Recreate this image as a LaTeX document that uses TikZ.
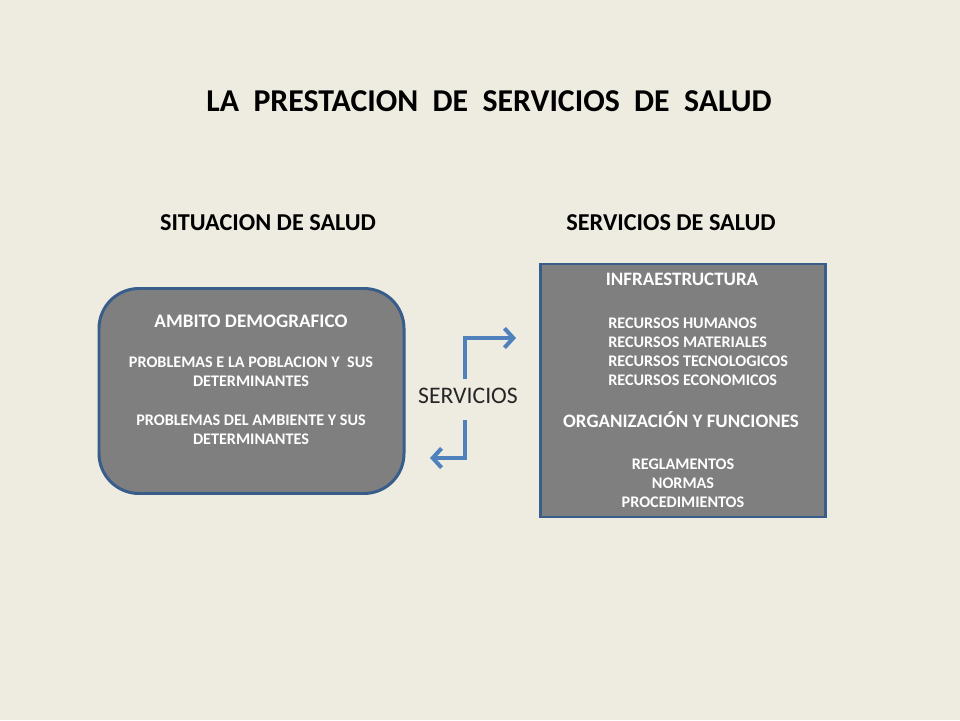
\documentclass[tikz,border=0pt]{standalone}
\usepackage{fontspec}
\setmainfont{Carlito}
\usepackage{xcolor}
\usetikzlibrary{arrows.meta}
\definecolor{fondo}{RGB}{238,236,225}
\definecolor{caja}{RGB}{127,127,127}
\definecolor{borde}{RGB}{56,93,138}
\definecolor{flechaazul}{RGB}{79,129,189}

\begin{document}
\begin{tikzpicture}
\tikzset{
    titulo/.style = {font=\bfseries\fontsize{18.1}{20}\selectfont},
    subtitulo/.style = {font=\bfseries\fontsize{13.8}{15}\selectfont},
    cajar/.style = {rectangle, rounded corners=0.8cm, draw=borde, line width=1.7pt, fill=caja, minimum width=6.1cm, minimum height=4.1cm},
    cajac/.style = {rectangle, draw=borde, line width=1.4pt, fill=caja, minimum width=5.7cm, minimum height=5.07cm},
    cabeza/.style = {text=white, font=\bfseries\fontsize{10.9}{12}\selectfont, inner sep=0pt},
    cabezab/.style = {text=white, font=\bfseries\fontsize{10.8}{12}\selectfont, inner sep=0pt},
    texto/.style = {text=white, font=\bfseries\fontsize{9.2}{10.8}\selectfont, inner sep=0pt},
    flecha/.style = {draw=flechaazul, line width=2.3pt, -{Straight Barb[length=5pt,width=11pt]}},
}
\fill[fondo] (0,0) rectangle (19.2,14.4);
\useasboundingbox (0,0) rectangle (19.2,14.4);
%
\node[titulo] at (9.78,12.38) (tit) {LA\ \ PRESTACION\ \ DE\ \ SERVICIOS\ \ DE\ \ SALUD};
\node[subtitulo] at (5.36,9.94) (sit) {SITUACION DE SALUD};
\node[subtitulo] at (13.42,9.94) (ser) {SERVICIOS DE SALUD};
%
\node[cajar] at (5.03,6.58) (amb) {};
\node[cabeza] at (5.02,7.98) (demo) {AMBITO DEMOGRAFICO};
\node[texto, align=center] at (5.02,6.97) (pob) {PROBLEMAS E LA POBLACION Y\ \ SUS\\DETERMINANTES};
\node[texto, align=center] at (5.02,5.81) (ambi) {PROBLEMAS DEL AMBIENTE Y SUS\\DETERMINANTES};
%
\node[cajac] at (13.66,6.59) (serv) {};
\node[cabezab] at (13.64,8.82) (infra) {INFRAESTRUCTURA};
\node[texto, align=left, anchor=west] at (12.16,7.37) (rec) {RECURSOS HUMANOS\\RECURSOS MATERIALES\\RECURSOS TECNOLOGICOS\\RECURSOS ECONOMICOS};
\node[cabezab] at (13.62,6.00) (org) {ORGANIZACIÓN Y FUNCIONES};
\node[texto, align=center] at (13.66,4.74) (reg) {REGLAMENTOS\\NORMAS\\PROCEDIMIENTOS};
%
\node[font=\fontsize{13.5}{15}\selectfont, text=black!85, inner sep=0pt] at (9.36,6.48) (srv) {SERVICIOS};
\coordinate (fin1) at (10.32,7.64);
\coordinate (fin2) at (8.60,5.24);
\draw[flecha, shorten <=5pt] ([xshift=-0.06cm]srv.north) |- (fin1);
\draw[flecha, shorten <=9pt] ([xshift=-0.06cm]srv.south) |- (fin2);
\end{tikzpicture}
\end{document}
